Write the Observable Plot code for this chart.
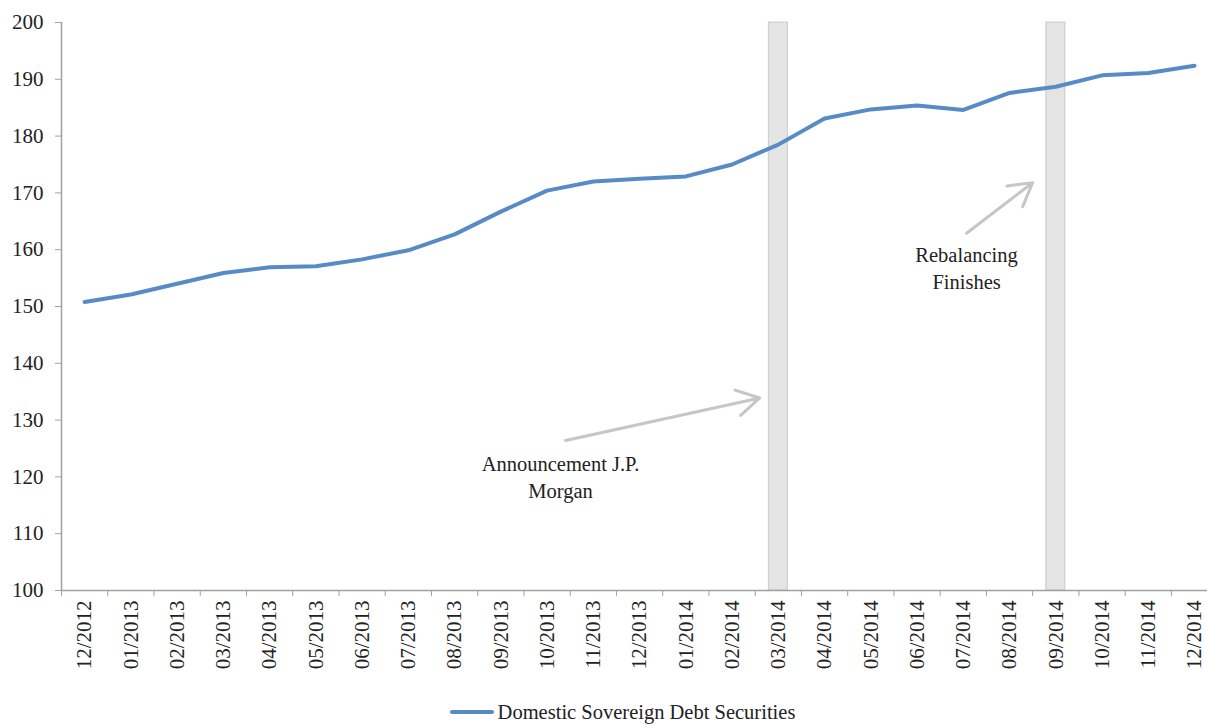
<!DOCTYPE html>
<html>
<head>
<meta charset="utf-8">
<script src="https://cdn.jsdelivr.net/npm/d3@7"></script>
<script src="https://cdn.jsdelivr.net/npm/@observablehq/plot@0.6"></script>
<style>
  body { margin: 0; background: #fff; font-family: "Liberation Serif", serif; }
  #legend { display: flex; justify-content: center; align-items: center; height: 44px; font-size: 20.5px; color: #222; padding-left: 38px; }
  #legend .sw { width: 44px; height: 4px; background: #578bc6; border-radius: 2px; margin-right: 4px; }
</style>
</head>
<body>
<div id="chart"></div>
<div id="legend"><span class="sw"></span><span>Domestic Sovereign Debt Securities</span></div>
<script>
const months = ["12/2012","01/2013","02/2013","03/2013","04/2013","05/2013","06/2013","07/2013","08/2013","09/2013","10/2013","11/2013","12/2013","01/2014","02/2014","03/2014","04/2014","05/2014","06/2014","07/2014","08/2014","09/2014","10/2014","11/2014","12/2014"];
const values = [150.8,152.1,154.0,155.9,156.9,157.1,158.3,159.9,162.7,166.7,170.4,172.0,172.5,172.9,175.0,178.5,183.1,184.7,185.4,184.6,187.6,188.7,190.7,191.1,192.4];
const seriesName = "Domestic Sovereign Debt Securities";
const highlightMonths = ["03/2014","09/2014"];
const yTicks = [100,110,120,130,140,150,160,170,180,190,200];
const annotationTexts = ["Announcement J.P.\nMorgan", "Rebalancing\nFinishes"];
const annotationAt = [{x: 10.29, y: 120.2}, {x: 19.07, y: 157.0}];
const arrowsFrom = [{x: 10.4, y: 126.4}, {x: 19.07, y: 162.9}];
const arrowsTo = [{x: 14.6, y: 133.9}, {x: 20.5, y: 171.8}];

const data = months.map((m, i) => ({i, m, v: values[i]}));
const bands = highlightMonths.map(m => ({i: months.indexOf(m)}));
const arrows = arrowsFrom.map((f, k) => ({x1: f.x, y1: f.y, x2: arrowsTo[k].x, y2: arrowsTo[k].y}));
const notes = annotationTexts.map((t, k) => ({t, x: annotationAt[k].x, y: annotationAt[k].y}));

const chart = Plot.plot({
  width: 1207,
  height: 690,
  marginTop: 22,
  marginBottom: 100,
  marginLeft: 61,
  marginRight: 0,
  style: {fontFamily: "'Liberation Serif', serif", fontSize: "20.5px", color: "#222", background: "#fff"},
  x: {type: "linear", domain: [-0.5, 24.28]},
  y: {domain: [100, 200]},
  marks: [
    Plot.rect(bands, {x1: d => d.i - 0.205, x2: d => d.i + 0.205, y1: 100, y2: 200, fill: "#e4e4e4", stroke: "#c9c9c9", strokeWidth: 1}),
    Plot.ruleY([100], {stroke: "#a0a0a0", strokeWidth: 1.5}),
    Plot.ruleX([-0.5], {stroke: "#a0a0a0", strokeWidth: 1.5}),
    Plot.axisY({ticks: yTicks, tickSize: 6, tickPadding: 12, stroke: "#a0a0a0", fill: "#222", tickFormat: d => d, label: null, fontSize: 21}),
    Plot.axisX({ticks: d3.range(-0.5, 24.6, 1), tickSize: 6, tickFormat: () => "", stroke: "#a0a0a0", label: null}),
    Plot.axisX({ticks: d3.range(0, 25), tickSize: 0, tickPadding: 10, tickRotate: -90, tickFormat: i => months[i], fill: "#222", label: null, fontSize: 21}),
    Plot.line(data, {x: "i", y: "v", stroke: "#578bc6", strokeWidth: 4, strokeLinejoin: "round", strokeLinecap: "round"}),
    Plot.arrow(arrows, {x1: "x1", y1: "y1", x2: "x2", y2: "y2", stroke: "#c6c6c6", strokeWidth: 3, headLength: 13, bend: 0}),
    Plot.text(notes, {x: "x", y: "y", text: "t", fill: "#222", fontSize: 20.5, lineHeight: 1.3})
  ]
});
document.getElementById("chart").appendChild(chart);
</script>
</body>
</html>
